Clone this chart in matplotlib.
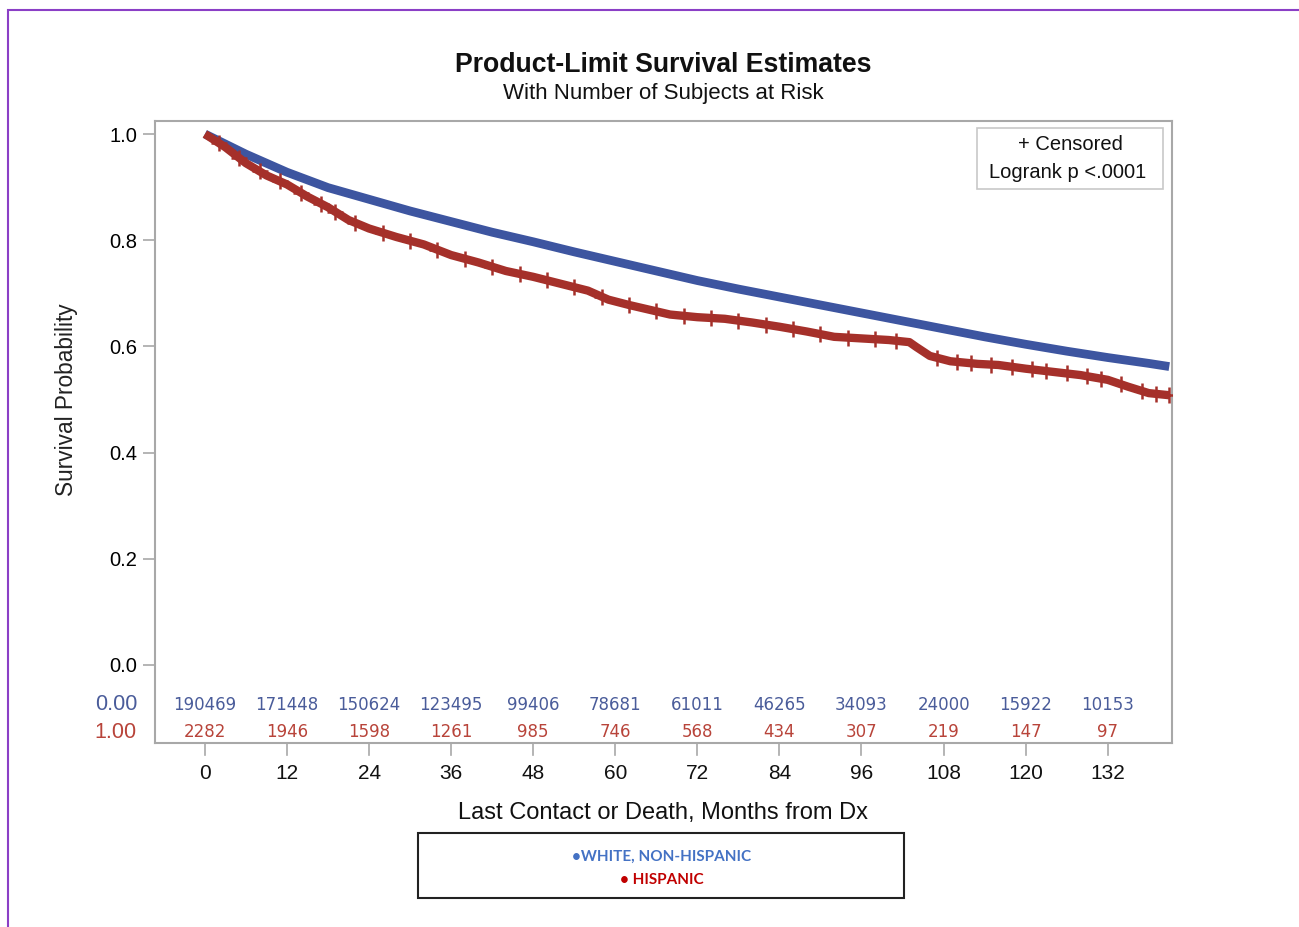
import matplotlib
matplotlib.use("Agg")
import matplotlib.pyplot as plt
from matplotlib.patches import Rectangle
from matplotlib.lines import Line2D
import numpy as np

# ---------------- data ----------------
white_t = [0, 6, 12, 18, 24, 30, 36, 42, 48, 54, 60, 66, 72, 78, 84, 90, 96,
           102, 108, 114, 120, 126, 132, 138, 141]
white_s = [1.0, 0.962, 0.928, 0.899, 0.877, 0.855, 0.835, 0.815, 0.797, 0.778,
           0.760, 0.742, 0.724, 0.708, 0.693, 0.678, 0.663, 0.648, 0.633, 0.618,
           0.604, 0.591, 0.579, 0.568, 0.562]

hisp_t = [0, 3, 6, 9, 12, 15, 18, 21, 24, 28, 32, 36, 40, 44, 48, 52, 56, 59,
          62, 65, 68, 72, 76, 80, 84, 88, 92, 96, 100, 103, 104, 106, 109, 113,
          116, 120, 124, 128, 132, 135, 138, 141]
hisp_s = [1.0, 0.975, 0.945, 0.922, 0.905, 0.882, 0.862, 0.838, 0.822, 0.806,
          0.792, 0.772, 0.758, 0.742, 0.731, 0.718, 0.705, 0.688, 0.678, 0.669,
          0.660, 0.655, 0.652, 0.645, 0.637, 0.628, 0.618, 0.615, 0.612, 0.608,
          0.599, 0.582, 0.572, 0.567, 0.565, 0.558, 0.552, 0.546, 0.537, 0.524,
          0.512, 0.508]

# censored marks (Hispanic)
hisp_cens_t = [2, 5, 8, 11, 14, 17, 19, 22, 26, 30, 34, 38, 42, 46, 50, 54, 58,
               62, 66, 70, 74, 78, 82, 86, 90, 94, 98, 101, 107, 110, 112, 115,
               118, 121, 123, 126, 129, 131, 134, 137, 139, 141]

risk_times = [0, 12, 24, 36, 48, 60, 72, 84, 96, 108, 120, 132]
risk_white = [190469, 171448, 150624, 123495, 99406, 78681, 61011, 46265,
              34093, 24000, 15922, 10153]
risk_hisp = [2282, 1946, 1598, 1261, 985, 746, 568, 434, 307, 219, 147, 97]

y_ticks = [0.0, 0.2, 0.4, 0.6, 0.8, 1.0]
x_ticks = [0, 12, 24, 36, 48, 60, 72, 84, 96, 108, 120, 132]

BLUE = "#3D55A0"
RED = "#A5302A"
BLUE_TXT = "#4A5C9A"
RED_TXT = "#B8443A"
GRAY = "#A8A8A8"

FONT = ["Liberation Sans", "DejaVu Sans"]
plt.rcParams["font.family"] = FONT

W, H = 1299, 927
fig = plt.figure(figsize=(W / 100, H / 100), dpi=100)

def fx(px):
    return px / W

def fy(py):
    return 1 - py / H

# purple page border (top and left only visible)
fig.patches.append(Rectangle((fx(8), fy(990)), fx(1400), fy(10) - fy(990),
                             transform=fig.transFigure, fill=False,
                             edgecolor="#8B3FC6", linewidth=1.5))

ax = fig.add_axes([fx(155), fy(743), fx(1172) - fx(155), fy(121) - fy(743)])

x0, x1 = -7.3, 141.4
y0, y1 = -0.147, 1.0245
ax.set_xlim(x0, x1)
ax.set_ylim(y0, y1)

# curves
ax.plot(white_t, white_s, color=BLUE, linewidth=6.3, solid_capstyle="butt",
        zorder=3)
ax.plot(hisp_t, hisp_s, color=RED, linewidth=6.0, solid_capstyle="butt",
        zorder=4)

# censor marks
cens_y = np.interp(hisp_cens_t, hisp_t, hisp_s)
ax.plot(hisp_cens_t, cens_y, linestyle="none", marker="+", markersize=11,
        markeredgewidth=1.8, color=RED, zorder=5)

for s in ax.spines.values():
    s.set_color(GRAY)
    s.set_linewidth(1.5)

ax.set_yticks(y_ticks)
ax.set_yticklabels([f"{v:.1f}" for v in y_ticks], fontsize=14.5)
ax.tick_params(axis="y", length=9, width=1.2, color=GRAY, pad=4)
ax.set_xticks([])

# x ticks below the table (outside axes)
for t in x_ticks:
    ax.add_line(Line2D([t, t], [y0, y0 - 0.022], color=GRAY, linewidth=1.2,
                       clip_on=False))
    ax.text(t, y0 - 0.057, str(t), ha="center", va="center", fontsize=15,
            color="#111111", clip_on=False)

# at-risk table
for t, w, h in zip(risk_times, risk_white, risk_hisp):
    ax.text(t, -0.0755, str(w), ha="center", va="center", fontsize=12,
            family=["DejaVu Sans"], color=BLUE_TXT)
    ax.text(t, -0.1265, str(h), ha="center", va="center", fontsize=12,
            family=["DejaVu Sans"], color=RED_TXT)

fig.text(fx(137), fy(705), "0.00", ha="right", va="center", fontsize=15.5,
         color=BLUE_TXT)
fig.text(fx(137), fy(732), "1.00", ha="right", va="center", fontsize=15.5,
         color=RED_TXT)

# y label
fig.text(fx(66), fy(400), "Survival Probability", rotation=90, ha="center",
         va="center", fontsize=16.3, color="#222222")

# x label
fig.text(fx(663), fy(813), "Last Contact or Death, Months from Dx",
         ha="center", va="center", fontsize=17, color="#111111")

# titles
fig.text(fx(663), fy(65), "Product-Limit Survival Estimates", ha="center",
         va="center", fontsize=19.2, fontweight="bold", color="#111111")
fig.text(fx(663), fy(94), "With Number of Subjects at Risk", ha="center",
         va="center", fontsize=16, color="#111111")

# inset box (censored / logrank)
fig.patches.append(Rectangle((fx(977), fy(189)), fx(1163) - fx(977),
                             fy(128) - fy(189), transform=fig.transFigure,
                             fill=True, facecolor="white", edgecolor="#C8C8C8",
                             linewidth=1.2, zorder=10))
fig.text(fx(1070), fy(145), "+ Censored", ha="center", va="center",
         fontsize=14.5, color="#111111", zorder=11)
fig.text(fx(1068), fy(173), "Logrank p <.0001", ha="center", va="center",
         fontsize=14.5, color="#111111", zorder=11)

# bottom legend box
fig.patches.append(Rectangle((fx(418), fy(898)), fx(904) - fx(418),
                             fy(833) - fy(898), transform=fig.transFigure,
                             fill=False, edgecolor="#222222", linewidth=1.5))
fig.text(fx(662), fy(857), "\u2022WHITE, NON-HISPANIC", ha="center",
         va="center", fontsize=11, fontweight="bold",
         family=["Lato", "Open Sans", "DejaVu Sans"], color="#4472C4")
fig.text(fx(662), fy(880), "\u2022 HISPANIC", ha="center", va="center",
         fontsize=11, fontweight="bold",
         family=["Lato", "Open Sans", "DejaVu Sans"], color="#C00000")

fig.savefig("out.png", dpi=100, facecolor="white")
